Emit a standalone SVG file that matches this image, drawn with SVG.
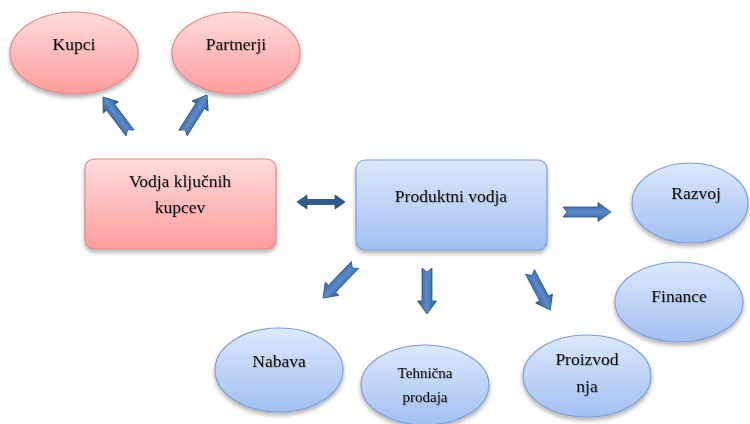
<svg xmlns="http://www.w3.org/2000/svg" width="750" height="424" viewBox="0 0 750 424">
<defs>
<linearGradient id="gRed" x1="0" y1="0" x2="0" y2="1"><stop offset="0" stop-color="#ffdcdc"/><stop offset="1" stop-color="#ff9c9c"/></linearGradient>
<linearGradient id="gBlue" x1="0" y1="0" x2="0" y2="1"><stop offset="0" stop-color="#dde8fb"/><stop offset="1" stop-color="#a1bff2"/></linearGradient>
<linearGradient id="gArrow" x1="0" y1="0" x2="0" y2="1"><stop offset="0" stop-color="#2f5d97"/><stop offset="0.5" stop-color="#5a8bc8"/><stop offset="1" stop-color="#2f5d97"/></linearGradient>
<filter id="sh" x="-20%" y="-20%" width="140%" height="150%"><feDropShadow dx="0" dy="3" stdDeviation="2" flood-color="#000" flood-opacity="0.3"/></filter>
<filter id="tsh" x="-10%" y="-10%" width="120%" height="130%"><feDropShadow dx="0.6" dy="0.8" stdDeviation="0.4" flood-color="#000" flood-opacity="0.3"/></filter>
</defs>
<style>
.red{fill:url(#gRed);stroke:#d98b8a;stroke-width:1.2;filter:url(#sh)}
.blue{fill:url(#gBlue);stroke:#7b9fd4;stroke-width:1.2;filter:url(#sh)}
.t{font-family:"Liberation Serif","Times New Roman",serif;font-size:17.5px;fill:#111;text-anchor:middle;filter:url(#tsh)}
.arr{fill:url(#gArrow);stroke:#2a5286;stroke-width:0.8}
.dbl{fill:#2f5a8c;stroke:#24496f;stroke-width:0.8}
</style>
<g id="connectors">
<path class="arr" transform="translate(130,133) rotate(-126.9)" d="M0,-5 L32,-5 L32,-9.5 L45,0 L32,9.5 L32,5 L0,5 L4,0 Z"/>
<path class="arr" transform="translate(183,133) rotate(-57.7)" d="M0,-5 L32,-5 L32,-9.5 L45,0 L32,9.5 L32,5 L0,5 L4,0 Z"/>
<path class="dbl" d="M297,202 L307,195 L307,199.5 L335,199.5 L335,195 L345,202 L335,209 L335,204.5 L307,204.5 L307,209 Z"/>
<path class="arr" transform="translate(563,212)" d="M0,-5 L35,-5 L35,-9.5 L48,0 L35,9.5 L35,5 L0,5 L4,0 Z"/>
<path class="arr" transform="translate(355,265) rotate(134)" d="M0,-5 L33,-5 L33,-9.5 L46,0 L33,9.5 L33,5 L0,5 L4,0 Z"/>
<path class="arr" transform="translate(427,268) rotate(90)" d="M0,-5 L33,-5 L33,-9.5 L46,0 L33,9.5 L33,5 L0,5 L4,0 Z"/>
<path class="arr" transform="translate(530,272) rotate(62)" d="M0,-5 L30,-5 L30,-9.5 L43,0 L30,9.5 L30,5 L0,5 L4,0 Z"/>
</g>
<g id="kupci"><ellipse class="red" cx="74" cy="53" rx="64" ry="41"/><text class="t" x="74" y="50">Kupci</text></g>
<g id="partnerji"><ellipse class="red" cx="236" cy="53" rx="64" ry="41"/><text class="t" x="236" y="50">Partnerji</text></g>
<g id="vodja"><rect class="red" x="85" y="159" width="191" height="90" rx="9"/><text class="t" x="180" y="187">Vodja ključnih</text><text class="t" x="180" y="213">kupcev</text></g>
<g id="produktni"><rect class="blue" x="356" y="160" width="191" height="90" rx="9"/><text class="t" x="451" y="202">Produktni vodja</text></g>
<g id="razvoj"><ellipse class="blue" cx="690" cy="203" rx="58" ry="40"/><text class="t" x="696" y="199">Razvoj</text></g>
<g id="finance"><ellipse class="blue" cx="679" cy="302" rx="64" ry="40"/><text class="t" x="679" y="302">Finance</text></g>
<g id="nabava"><ellipse class="blue" cx="279" cy="370" rx="64" ry="42"/><text class="t" x="279" y="367">Nabava</text></g>
<g id="tehnicna"><ellipse class="blue" cx="425" cy="385" rx="64" ry="40"/><text class="t" x="425" y="378" style="font-size:15px">Tehnična</text><text class="t" x="425" y="402" style="font-size:15px">prodaja</text></g>
<g id="proizvodnja"><ellipse class="blue" cx="587" cy="376" rx="64" ry="41"/><text class="t" x="587" y="365">Proizvod</text><text class="t" x="587" y="392">nja</text></g>
</svg>
